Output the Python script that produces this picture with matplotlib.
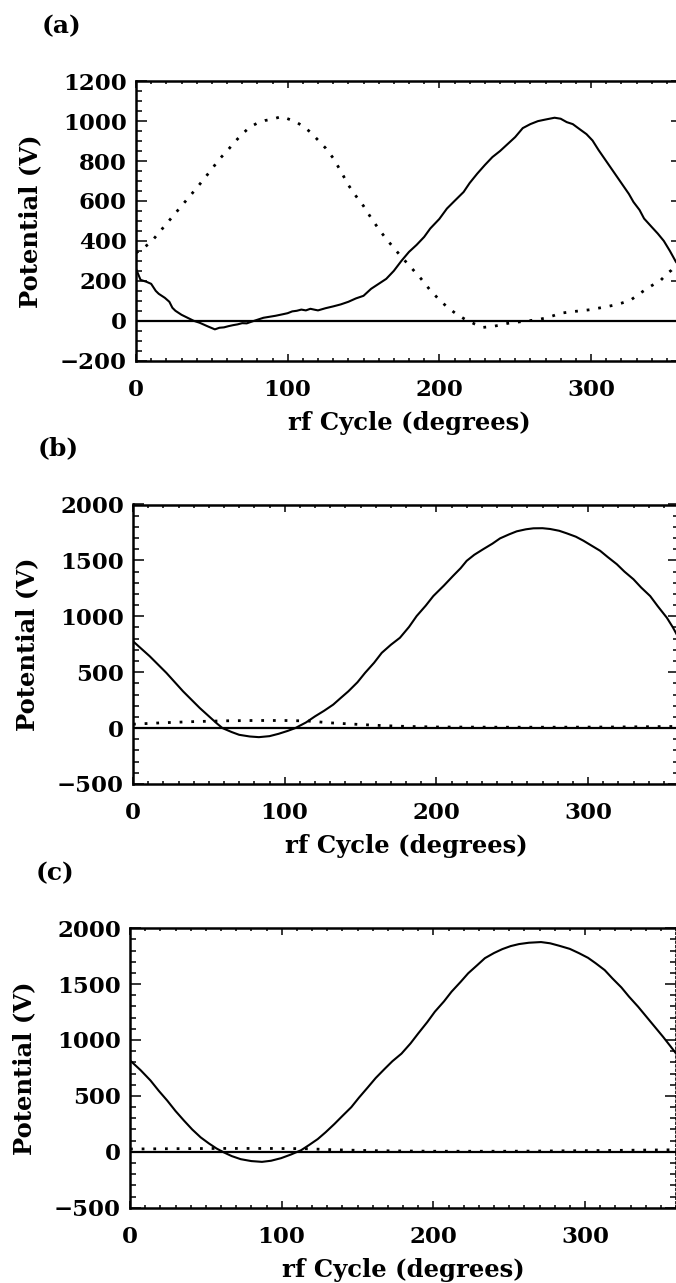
import numpy as np
import matplotlib
matplotlib.use("Agg")
import matplotlib.pyplot as plt
from matplotlib.ticker import MultipleLocator

plt.rcParams['font.family'] = ['DejaVu Serif']
plt.rcParams['font.weight'] = 'bold'

# ---------------- data ----------------
a_solid_x = [0, 3, 7, 10, 13, 15, 19, 22, 24, 26, 30, 34, 38, 42, 47, 52, 55, 58, 61, 64,
             67, 70, 73, 76, 80, 84, 88, 92, 97, 100, 103, 106, 109, 112, 115, 118, 120, 125,
             130, 135, 140, 145, 150, 155, 160, 165, 170, 175, 180, 185, 190, 194, 200, 205,
             210, 216, 220, 225, 230, 235, 240, 245, 250, 255, 260, 265, 270, 276, 280, 284,
             288, 293, 297, 301, 305, 310, 315, 320, 325, 328, 332, 335, 340, 344, 348, 352,
             356, 360]
a_solid_y = [260, 205, 195, 185, 150, 135, 115, 95, 65, 50, 30, 15, 0, -10, -27, -43, -35, -33, -27, -22,
             -18, -12, -13, -5, 5, 15, 20, 25, 33, 38, 47, 50, 56, 52, 60, 55, 52, 63,
             72, 82, 95, 112, 125, 160, 185, 210, 250, 300, 345, 380, 420, 462, 510, 562,
             600, 645, 690, 737, 780, 820, 850, 885, 920, 965, 985, 1000, 1008, 1017, 1012, 995,
             985, 957, 935, 903, 855, 800, 745, 690, 635, 595, 555, 512, 470, 437, 400, 350,
             295, 260]

a_dot_x = [0, 5, 10, 15, 20, 25, 30, 35, 40, 45, 50, 55, 60, 65, 70, 75, 80, 85, 90, 96,
           100, 105, 110, 115, 120, 125, 130, 135, 140, 145, 150, 155, 160, 165, 170, 175, 181,
           188, 194, 200, 205, 211, 217, 223, 229, 233, 236, 240, 245, 250, 258, 264, 269, 275,
           280, 287, 293, 299, 304, 310, 315, 320, 326, 331, 337, 342, 346, 350, 353, 357, 360]
a_dot_y = [340, 365, 395, 440, 485, 530, 575, 620, 665, 712, 760, 810, 850, 895, 935, 970, 990, 1003, 1010, 1023,
           1012, 998, 975, 945, 905, 865, 815, 750, 680, 625, 575, 515, 460, 410, 365, 320, 270,
           210, 153, 105, 70, 35, 7, -15, -33, -30, -27, -22, -13, -8, -1, 5, 12, 25,
           38, 45, 50, 55, 62, 70, 78, 88, 103, 130, 162, 185, 203, 235, 253, 287, 320]

b_solid_x = [0, 11, 22, 33, 44, 55, 59, 65, 70, 77, 83, 90, 96, 102, 107, 114, 120, 126, 132, 137,
             142, 148, 153, 159, 164, 170, 176, 182, 187, 193, 198, 205, 211, 216, 220, 225, 231,
             237, 242, 248, 253, 259, 264, 270, 275, 281, 286, 292, 297, 302, 308, 313, 319, 324,
             330, 335, 341, 346, 352, 356, 360]
b_solid_y = [777, 643, 494, 329, 180, 45, 0, -35, -60, -75, -81, -72, -51, -25, 0, 50, 105, 155, 210, 270,
             329, 410, 494, 585, 673, 745, 808, 905, 1002, 1095, 1181, 1275, 1361, 1430, 1496, 1550, 1601,
             1650, 1697, 1733, 1760, 1778, 1787, 1788, 1781, 1765, 1742, 1712, 1676, 1635, 1586, 1530, 1466, 1400,
             1331, 1258, 1181, 1090, 987, 900, 800]

b_dot_x = [0, 20, 40, 60, 80, 100, 115, 130, 150, 165, 180, 200, 240, 280, 320, 360]
b_dot_y = [35, 48, 58, 65, 68, 68, 64, 47, 32, 22, 15, 10, 8, 8, 10, 15]

c_solid_x = [0, 7, 13.5, 19, 24.5, 30, 35.6, 41, 46.6, 52, 57, 62, 67, 73, 80, 87, 93, 99.6, 106, 112.8,
             118, 123.8, 129, 134.8, 140, 145.9, 151, 156.9, 162, 168, 173, 179, 185, 190, 196, 201,
             207, 212, 218, 223, 229, 234, 240, 245.5, 251, 256.5, 263, 271, 277, 283, 290, 296,
             302, 307, 313, 318, 324, 329, 335, 340.5, 346, 351.5, 356, 360]
c_solid_y = [818, 730, 638, 545, 459, 365, 279, 200, 129, 75, 30, -6, -38, -66, -83, -90, -80, -57, -25, 14,
             60, 114, 175, 249, 320, 399, 485, 578, 660, 743, 810, 878, 970, 1058, 1160, 1253,
             1345, 1432, 1520, 1597, 1670, 1732, 1778, 1813, 1840, 1858, 1870, 1876, 1865, 1843, 1815, 1777,
             1735, 1687, 1625, 1552, 1470, 1388, 1298, 1208, 1118, 1028, 950, 880]

c_dot_x = [0, 30, 60, 90, 115, 135, 160, 200, 250, 300, 360]
c_dot_y = [25, 28, 30, 30, 28, 18, 10, 5, 5, 10, 18]

x_ticks = [0, 100, 200, 300]
a_yticks = [-200, 0, 200, 400, 600, 800, 1000, 1200]
bc_yticks = [-500, 0, 500, 1000, 1500, 2000]

panel_labels = ['(a)', '(b)', '(c)']
xlabel_text = 'rf Cycle (degrees)'
ylabel_text = 'Potential (V)'

# ---------------- layout (pixels) ----------------
W, H = 676, 1283
fig = plt.figure(figsize=(W / 100, H / 100), dpi=100)

FS_TICK = 16.5
FS_LAB = 17.5
FS_PANEL = 18
ax_w = 546
ax_h = 279.5
panels = [
    dict(left=136, bottom=360.7, ylim=(-200, 1200), yticks=a_yticks, ymin=50,
         sx=a_solid_x, sy=a_solid_y, dx=a_dot_x, dy=a_dot_y, lab=(62, 26), right_style='-'),
    dict(left=133, bottom=784.0, ylim=(-500, 2000), yticks=bc_yticks, ymin=100,
         sx=b_solid_x, sy=b_solid_y, dx=b_dot_x, dy=b_dot_y, lab=(58, 448), right_style='-'),
    dict(left=130, bottom=1207.7, ylim=(-500, 2000), yticks=bc_yticks, ymin=100,
         sx=c_solid_x, sy=c_solid_y, dx=c_dot_x, dy=c_dot_y, lab=(55, 873), right_style=':'),
]

for i, p in enumerate(panels):
    ax = fig.add_axes([p['left'] / W, 1 - p['bottom'] / H, ax_w / W, ax_h / H])
    ax.plot(p['sx'], p['sy'], color='black', lw=1.5, solid_joinstyle='round')
    ax.plot(p['dx'], p['dy'], color='black', lw=2.0, linestyle=(0, (1, 3.2)))
    ax.axhline(0, color='black', lw=1.6)
    ax.set_xlim(0, 360)
    ax.set_ylim(*p['ylim'])
    ax.set_xticks(x_ticks)
    ax.set_yticks(p['yticks'])
    ax.xaxis.set_minor_locator(MultipleLocator(10))
    ax.yaxis.set_minor_locator(MultipleLocator(p['ymin']))
    ax.tick_params(axis='both', which='both', direction='in', top=True, right=True,
                   labelsize=FS_TICK, width=1.1, color='black')
    ax.tick_params(axis='x', which='major', length=5, pad=13)
    ax.tick_params(axis='x', which='minor', length=2.5)
    ax.tick_params(axis='y', which='major', length=8, pad=6.5)
    ax.tick_params(axis='y', which='minor', length=4)
    for lab in ax.get_xticklabels() + ax.get_yticklabels():
        lab.set_fontweight('bold')
    for s in ax.spines.values():
        s.set_linewidth(1.8)
    ax.spines['right'].set_linestyle(p['right_style'])
    if p['right_style'] == ':':
        ax.spines['right'].set_linewidth(1.2)

    top_px = p['bottom'] - ax_h
    cx = p['left'] + ax_w / 2
    fig.text(cx / W, 1 - (p['bottom'] + 62) / H, xlabel_text, fontsize=FS_LAB,
             fontweight='bold', ha='center', va='center')
    fig.text((p['left'] - 106) / W, 1 - (top_px + ax_h / 2) / H, ylabel_text, fontsize=FS_LAB,
             fontweight='bold', ha='center', va='center', rotation=90)
    fig.text(p['lab'][0] / W, 1 - p['lab'][1] / H, panel_labels[i], fontsize=FS_PANEL,
             fontweight='bold', ha='center', va='center')

fig.savefig('out.png', dpi=100, facecolor='white')
